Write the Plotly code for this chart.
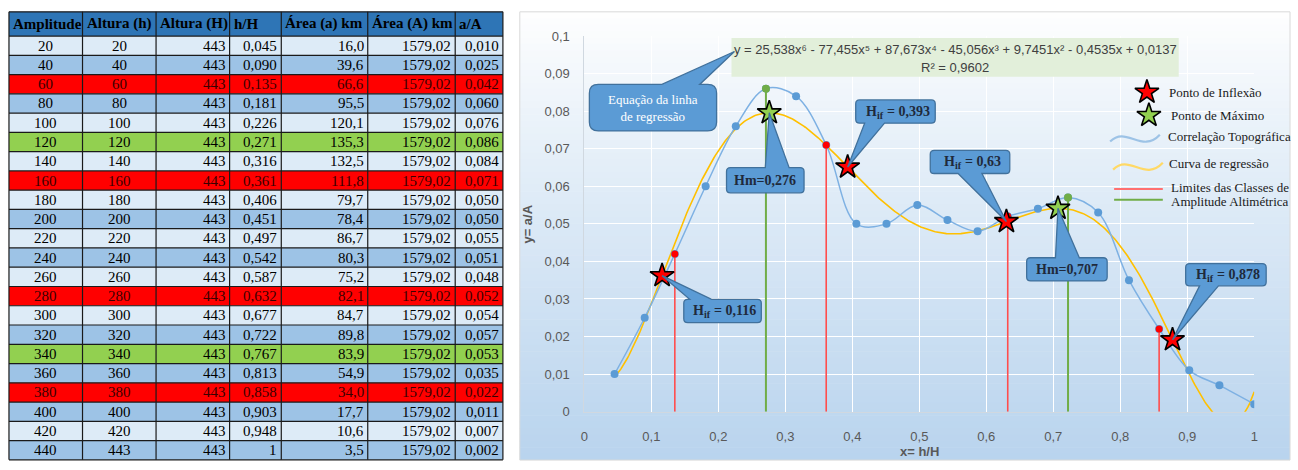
import numpy as np
import plotly.graph_objects as go

W, H = 1298, 470

# ---------------- table data ----------------
headers = ["Amplitude", "Altura (h)", "Altura (H)", "h/H", "Área (a) km", "Área (A) km", "a/A"]
amplitude = [20, 40, 60, 80, 100, 120, 140, 160, 180, 200, 220, 240, 260, 280, 300, 320, 340, 360, 380, 400, 420, 440]
altura_h = [20, 40, 60, 80, 100, 120, 140, 160, 180, 200, 220, 240, 260, 280, 300, 320, 340, 360, 380, 400, 420, 443]
altura_H = [443, 443, 443, 443, 443, 443, 443, 443, 443, 443, 443, 443, 443, 443, 443, 443, 443, 443, 443, 443, 443, 443]
h_H = [0.045, 0.090, 0.135, 0.181, 0.226, 0.271, 0.316, 0.361, 0.406, 0.451, 0.497,
       0.542, 0.587, 0.632, 0.677, 0.722, 0.767, 0.813, 0.858, 0.903, 0.948, 1]
area_a = [16.0, 39.6, 66.6, 95.5, 120.1, 135.3, 132.5, 111.8, 79.7, 78.4, 86.7,
          80.3, 75.2, 82.1, 84.7, 89.8, 83.9, 54.9, 34.0, 17.7, 10.6, 3.5]
area_A = [1579.02] * 22
a_A = [0.010, 0.025, 0.042, 0.060, 0.076, 0.086, 0.084, 0.071, 0.050, 0.050, 0.055,
       0.051, 0.048, 0.052, 0.054, 0.057, 0.053, 0.035, 0.022, 0.011, 0.007, 0.002]
# row highlight: L light, M medium, R class limit, G maximum
row_kind = ["L", "M", "R", "M", "L", "G", "L", "R", "L", "M", "L",
            "M", "L", "R", "L", "M", "G", "M", "R", "M", "L", "M"]

# ---------------- chart data ----------------
coef = [25.538, -77.455, 87.673, -45.056, 9.7451, -0.4535, 0.0137]   # x^6 .. x^0
r2 = 0.9602
limit_x = [0.135, 0.361, 0.632, 0.858]
limit_y = [0.042, 0.071, 0.052, 0.022]
max_x = [0.271, 0.722]
max_y = [0.086, 0.057]
h_if = [0.116, 0.393, 0.63, 0.878]
h_m = [0.276, 0.707]

# ---------------- geometry (pixels) ----------------
PX0, PX1, PY0, PY1 = 584, 1258, 30, 418          # plot area
CX0, CX1, CY0, CY1 = 519, 1294, 5, 468           # chart frame
col_edges = [5, 79, 153, 227, 279, 366, 454, 502]
col_align = ["center", "center", "right", "right", "right", "right", "right"]
HEAD_TOP, HEAD_BOT, ROW_H = 5, 30, 19.9

SERIF = "Liberation Serif"
SANS = "Liberation Sans"
SUPERSCRIPT = str.maketrans("0123456789", "⁰¹²³⁴⁵⁶⁷⁸⁹")


def paper(x, y):
    return x / W, 1 - y / H


def dx(v):
    return PX0 + (PX1 - PX0) * v


def dy(v):
    return PY1 - (PY1 - PY0) * v / 0.1


def comma(v, d=None):
    s = f"{v:.{d}f}" if d is not None else f"{v:g}"
    return s.replace(".", ",")


poly = np.poly1d(coef)

shapes = []
annotations = []


def text_at(txt, xp, yp, anchor, font, **kw):
    x, y = paper(xp, yp)
    annotations.append(dict(xref="paper", yref="paper", x=x, y=y, xanchor=anchor,
                            yanchor="middle", text=txt, showarrow=False, font=font, **kw))


# ---------------- table ----------------
fills = {"L": "#ddebf7", "M": "#9dc3e6", "R": "#ff0000", "G": "#92d050"}
tx0, ty0 = paper(col_edges[0], HEAD_TOP)
tx1, ty1 = paper(col_edges[-1], HEAD_BOT)
shapes.append(dict(type="rect", xref="paper", yref="paper", x0=tx0, x1=tx1, y0=ty1, y1=ty0,
                   fillcolor="#2e75b6", line=dict(width=0), layer="below"))
for i, k in enumerate(row_kind):
    top = HEAD_BOT + i * ROW_H
    a0, b0 = paper(col_edges[0], top)
    a1, b1 = paper(col_edges[-1], top + ROW_H)
    shapes.append(dict(type="rect", xref="paper", yref="paper", x0=a0, x1=a1, y0=b1, y1=b0,
                       fillcolor=fills[k], line=dict(width=0), layer="below"))

table_bottom = HEAD_BOT + len(row_kind) * ROW_H
for xe in col_edges:
    a, b0 = paper(xe, HEAD_TOP)
    _, b1 = paper(xe, table_bottom)
    shapes.append(dict(type="line", xref="paper", yref="paper", x0=a, x1=a, y0=b0, y1=b1,
                       line=dict(color="#1a1a1a", width=1.2), layer="below"))
for ye in [HEAD_TOP, HEAD_BOT] + [HEAD_BOT + (i + 1) * ROW_H for i in range(len(row_kind))]:
    a0, b = paper(col_edges[0], ye)
    a1, _ = paper(col_edges[-1], ye)
    shapes.append(dict(type="line", xref="paper", yref="paper", x0=a0, x1=a1, y0=b, y1=b,
                       line=dict(color="#1a1a1a", width=1.2), layer="below"))

for j, h in enumerate(headers):
    text_at(h, col_edges[j] + 2, (HEAD_TOP + HEAD_BOT) / 2, "left",
            dict(family=SERIF, size=15, color="#000000", weight="bold"))

for i in range(len(row_kind)):
    cells = [str(amplitude[i]), str(altura_h[i]), str(altura_H[i]),
             "1" if h_H[i] == 1 else comma(h_H[i], 3),
             comma(area_a[i], 1), comma(area_A[i], 2), comma(a_A[i], 3)]
    yc = HEAD_BOT + (i + 0.5) * ROW_H
    color = "#3a0000" if row_kind[i] == "R" else "#000000"
    for j, txt in enumerate(cells):
        if col_align[j] == "center":
            xp, anc = (col_edges[j] + col_edges[j + 1]) / 2, "center"
        else:
            xp, anc = col_edges[j + 1] - 2, "right"
        text_at(txt, xp, yc, anc, dict(family=SERIF, size=15, color=color))

# ---------------- chart background (vertical gradient) ----------------
N = 70
top_c = np.array([255, 255, 255])
bot_c = np.array([185, 212, 238])
for i in range(N):
    t = (i + 0.5) / N
    c = top_c + (bot_c - top_c) * t ** 0.9
    ya = CY0 + (CY1 - CY0) * i / N
    yb = CY0 + (CY1 - CY0) * (i + 1) / N + 0.6
    a0, b0 = paper(CX0, ya)
    a1, b1 = paper(CX1, min(yb, CY1))
    shapes.append(dict(type="rect", xref="paper", yref="paper", x0=a0, x1=a1, y0=b1, y1=b0,
                       fillcolor=f"rgb({int(c[0])},{int(c[1])},{int(c[2])})",
                       line=dict(width=0), layer="below"))
a0, b0 = paper(CX0, CY0)
a1, b1 = paper(CX1, CY1)
shapes.append(dict(type="rect", xref="paper", yref="paper", x0=a0, x1=a1, y0=b1, y1=b0,
                   fillcolor="rgba(0,0,0,0)", line=dict(color="#d9d9d9", width=1), layer="below"))

# ---------------- traces ----------------
fig = go.Figure()

xr = np.linspace(h_H[0], 1.0, 400)
fig.add_trace(go.Scatter(x=xr, y=poly(xr), mode="lines",
                         line=dict(color="#ffc000", width=1.6), hoverinfo="skip"))

fig.add_trace(go.Scatter(x=h_H, y=a_A, mode="lines+markers",
                         line=dict(color="#7eb1e3", width=1.5, shape="spline", smoothing=1.0),
                         marker=dict(color="#5b9bd5", size=8), hoverinfo="skip"))


def vlines(xs, ys):
    lx, ly = [], []
    for x, y in zip(xs, ys):
        lx += [x, x, None]
        ly += [0, y, None]
    return lx, ly


lx, ly = vlines(limit_x, limit_y)
fig.add_trace(go.Scatter(x=lx, y=ly, mode="lines", line=dict(color="#ff4d4d", width=1.6),
                         hoverinfo="skip"))
mx, my = vlines(max_x, max_y)
fig.add_trace(go.Scatter(x=mx, y=my, mode="lines", line=dict(color="#70ad47", width=2),
                         hoverinfo="skip"))
fig.add_trace(go.Scatter(x=limit_x, y=limit_y, mode="markers",
                         marker=dict(color="#ff0000", size=7), hoverinfo="skip"))
fig.add_trace(go.Scatter(x=max_x, y=max_y, mode="markers",
                         marker=dict(color="#70ad47", size=8), hoverinfo="skip"))

# inflection and maximum points on the regression curve
STAR = 18
fig.add_trace(go.Scatter(x=h_if, y=poly(np.array(h_if)), mode="markers",
                         marker=dict(symbol="star", size=STAR, color="#ff0000",
                                     line=dict(color="#000000", width=1.6)),
                         cliponaxis=False, hoverinfo="skip"))
fig.add_trace(go.Scatter(x=h_m, y=poly(np.array(h_m)), mode="markers",
                         marker=dict(symbol="star", size=STAR, color="#92d050",
                                     line=dict(color="#000000", width=1.6)),
                         cliponaxis=False, hoverinfo="skip"))

# legend glyph stars on a pixel-space overlay axis
fig.add_trace(go.Scatter(x=[1150], y=[88], xaxis="x2", yaxis="y2", mode="markers",
                         marker=dict(symbol="star", size=STAR, color="#ff0000",
                                     line=dict(color="#000000", width=1.6)),
                         cliponaxis=False, hoverinfo="skip"))
fig.add_trace(go.Scatter(x=[1152], y=[112], xaxis="x2", yaxis="y2", mode="markers",
                         marker=dict(symbol="star", size=STAR, color="#92d050",
                                     line=dict(color="#000000", width=1.6)),
                         cliponaxis=False, hoverinfo="skip"))

# ---------------- equation box ----------------
a0, b0 = paper(732, 32)
a1, b1 = paper(1182, 72)
shapes.append(dict(type="rect", xref="paper", yref="paper", x0=a0, x1=a1, y0=b1, y1=b0,
                   fillcolor="#e2efda", line=dict(width=0), layer="above"))
deg = len(coef) - 1
terms = []
for k, c in enumerate(coef):
    p = deg - k
    body = comma(abs(c))
    if p > 1:
        body += "x" + str(p).translate(SUPERSCRIPT)
    elif p == 1:
        body += "x"
    sign = "-" if c < 0 else "+"
    terms.append(body if k == 0 else f" {sign} {body}")
eq_font = dict(family=SANS, size=13, color="#404040")
text_at("y = " + "".join(terms), 957, 44, "center", eq_font)
text_at("R" + "2".translate(SUPERSCRIPT) + " = " + comma(r2), 957, 62, "center", eq_font)


# ---------------- callouts ----------------
def callout_path(x0, y0, x1, y1, r, side, a, b, tip):
    def p(x, y):
        u, v = paper(x, y)
        return f"{u:.6f},{v:.6f}"
    tx, ty = tip
    s = f"M {p(x0 + r, y0)}"
    if side == "top":
        s += f" L {p(a, y0)} L {p(tx, ty)} L {p(b, y0)}"
    s += f" L {p(x1 - r, y0)} Q {p(x1, y0)} {p(x1, y0 + r)}"
    if side == "right":
        s += f" L {p(x1, a)} L {p(tx, ty)} L {p(x1, b)}"
    s += f" L {p(x1, y1 - r)} Q {p(x1, y1)} {p(x1 - r, y1)}"
    if side == "bottom":
        s += f" L {p(b, y1)} L {p(tx, ty)} L {p(a, y1)}"
    s += f" L {p(x0 + r, y1)} Q {p(x0, y1)} {p(x0, y1 - r)}"
    if side == "left":
        s += f" L {p(x0, b)} L {p(tx, ty)} L {p(x0, a)}"
    s += f" L {p(x0, y0 + r)} Q {p(x0, y0)} {p(x0 + r, y0)} Z"
    return s


def add_bubble(box, r, side, a, b, tip):
    x0, y0, x1, y1 = box
    shapes.append(dict(type="path", xref="paper", yref="paper",
                       path=callout_path(x0, y0, x1, y1, r, side, a, b, tip),
                       fillcolor="#5b9bd5", line=dict(color="#41719c", width=1.3), layer="above"))


LAB_COLOR = "#1f2a3c"
lab_font = dict(family=SERIF, size=14, color=LAB_COLOR, weight="bold")
sub_font = dict(family=SERIF, size=10, color=LAB_COLOR, weight="bold")


def hif_label(box, value):
    # "H" + subscript "if" + " = value", laid out as three pieces
    x0, y0, x1, y1 = box
    rest = "= " + comma(value)
    w_rest = sum(0.5 if ch.isdigit() else (0.57 if ch == "=" else 0.25) for ch in rest) * 14
    total = 11 + 6 + 4 + w_rest
    xs = (x0 + x1) / 2 - total / 2
    yc = (y0 + y1) / 2
    text_at("H", xs, yc, "left", lab_font)
    text_at("if", xs + 11, yc + 4, "left", sub_font)
    text_at(rest, xs + 21, yc, "left", lab_font)


star_if = [(dx(v), dy(poly(v))) for v in h_if]
star_m = [(dx(v), dy(poly(v))) for v in h_m]

add_bubble((589, 80, 717, 128), 9, "top", 662, 700, (735, 46))
text_at("Equação da linha<br>de regressão", 653, 104, "center",
        dict(family=SERIF, size=13, color="#ffffff"), align="center")

hm_boxes = [(727, 166, 805, 192, 766, 790), (1029, 259, 1110, 283, 1058, 1082)]
for (x0, y0, x1, y1, a, b), v, tip in zip(hm_boxes, h_m, star_m):
    add_bubble((x0, y0, x1, y1), 4, "top", a, b, tip)
    text_at("Hm=" + comma(v), (x0 + x1) / 2, (y0 + y1) / 2, "center", lab_font)

if_boxes = [((684, 302, 762, 326), "top", 690, 712),
            ((857, 96, 937, 120), "bottom", 866, 886),
            ((932, 148, 1012, 172), "bottom", 960, 984),
            ((1189, 265, 1270, 288), "bottom", 1203, 1222)]
for (box, side, a, b), v, tip in zip(if_boxes, h_if, star_if):
    add_bubble(box, 4, side, a, b, tip)
    hif_label(box, v)


# ---------------- legend ----------------
def wave(x0, y, color):
    def p(x, yy):
        u, v = paper(x, yy)
        return f"{u:.6f},{v:.6f}"
    path = (f"M {p(x0, y + 3)} C {p(x0 + 16, y - 14)} {p(x0 + 32, y + 16)} {p(x0 + 50, y - 4)}")
    shapes.append(dict(type="path", xref="paper", yref="paper", path=path,
                       line=dict(color=color, width=2.2), layer="above"))


wave(1113, 136, "#9dc3e6")
wave(1116, 165, "#ffd966")
for yy, colr in [(188, "#ff7070"), (199, "#70ad47")]:
    a0, b = paper(1117, yy)
    a1, _ = paper(1166, yy)
    shapes.append(dict(type="line", xref="paper", yref="paper", x0=a0, x1=a1, y0=b, y1=b,
                       line=dict(color=colr, width=2), layer="above"))

leg_font = dict(family=SERIF, size=13, color="#1a1a1a")
for txt, xx, yy in [("Ponto de Inflexão", 1170, 88), ("Ponto de Máximo", 1172, 112),
                    ("Correlação Topográfica", 1169, 134), ("Curva de regressão", 1170, 162),
                    ("Limites das Classes de", 1172, 186), ("Amplitude Altimétrica", 1172, 201)]:
    text_at(txt, xx, yy, "left", leg_font)

# axis titles
text_at("y= a/A", 527, (PY0 + PY1) / 2, "center",
        dict(family=SANS, size=13, color="#595959", weight="bold"), textangle=-90)
text_at("x= h/H", (PX0 + PX1) / 2, 459, "center",
        dict(family=SANS, size=13, color="#595959", weight="bold"))

fig.update_layout(
    width=W, height=H, autosize=False,
    margin=dict(l=0, r=0, t=0, b=0, pad=0),
    paper_bgcolor="#ffffff", plot_bgcolor="rgba(0,0,0,0)",
    showlegend=False, separators=",.",
    xaxis=dict(domain=[PX0 / W, PX1 / W], range=[0, 1], dtick=0.1, tick0=0,
               showgrid=True, gridcolor="#ffffff", gridwidth=1, zeroline=False,
               showline=True, linecolor="#d0d8e0", linewidth=1, ticks="",
               ticklabelstandoff=13,
               tickfont=dict(family=SANS, size=13, color="#595959"), fixedrange=True),
    yaxis=dict(domain=[1 - PY1 / H, 1 - PY0 / H], range=[0, 0.1], dtick=0.01, tick0=0,
               showgrid=True, gridcolor="#ffffff", gridwidth=1, zeroline=False,
               showline=True, linecolor="#d0d8e0", linewidth=1, ticks="",
               ticklabelstandoff=11,
               tickfont=dict(family=SANS, size=13, color="#595959"), fixedrange=True),
    xaxis2=dict(domain=[0, 1], range=[0, W], anchor="y2", visible=False, fixedrange=True),
    yaxis2=dict(domain=[0, 1], range=[H, 0], anchor="x2", visible=False, fixedrange=True),
    shapes=shapes, annotations=annotations,
)

fig.write_html("out.html")
